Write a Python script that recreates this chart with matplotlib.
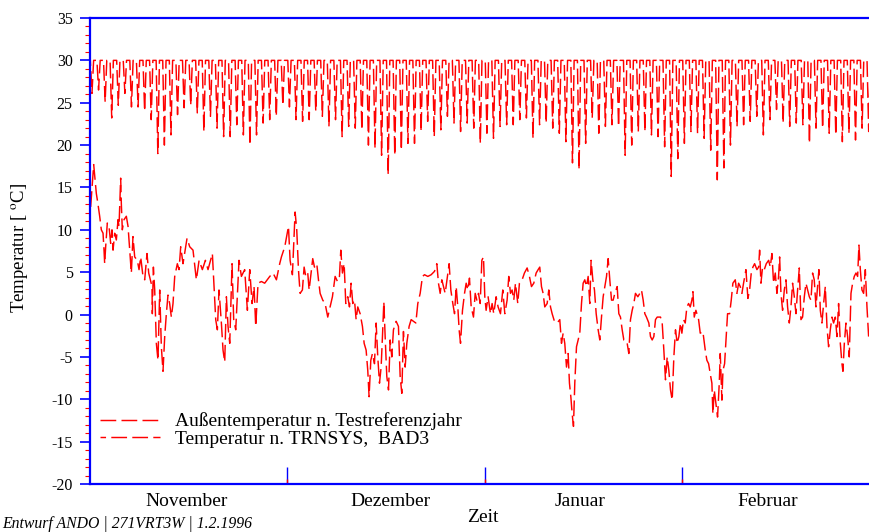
import matplotlib
matplotlib.use('Agg')
import matplotlib.pyplot as plt
from matplotlib.ticker import MultipleLocator, FixedLocator

plt.rcParams['font.family'] = ['Liberation Serif', 'DejaVu Serif']
plt.rcParams['mathtext.fontset'] = 'stix'
plt.rcParams['axes.unicode_minus'] = False

# ---------------- data ----------------
# x unit: days since 1 November; month boundaries as drawn on the chart
month_names = ['November', 'Dezember', 'Januar', 'Februar']
month_label_day = [14.7, 45.6, 74.5, 103.0]
month_boundaries = [30, 60, 90]

# Outside temperature (Testreferenzjahr): (day, degC)
outside_nov = [
    (0.1, 12.7), (0.56, 17.7), (0.96, 14.3), (1.2, 13.1), (1.47, 11.6), (1.72, 10.0),
    (1.98, 9.6), (2.13, 7.6), (2.23, 6.0), (2.38, 8.0), (2.63, 10.8), (2.89, 10.4),
    (3.14, 8.4), (3.34, 10.0), (3.5, 7.6), (3.75, 9.6), (4.0, 8.8), (4.26, 11.2),
    (4.41, 10.4), (4.66, 16.1), (4.76, 13.1), (4.91, 10.0), (5.17, 11.2), (5.52, 11.6),
    (5.78, 10.4), (6.03, 7.6), (6.28, 4.9), (6.53, 9.2), (6.79, 6.8), (7.19, 6.4),
    (7.45, 5.3), (7.7, 6.8), (8.05, 4.5), (8.31, 4.1), (8.66, 7.2), (8.92, 4.9),
    (9.17, 4.1), (9.42, 3.3), (9.47, 0.1), (9.63, 5.6), (9.83, 2.9), (10.08, -3.4),
    (10.33, -5.4), (10.59, 2.9), (10.84, -3.8), (11.09, -6.7), (11.35, -2.6), (11.6, 0.1),
    (11.85, 2.3), (12.1, 1.3), (12.36, -0.3), (12.61, 1.3), (12.87, 4.5), (13.27, 6.0),
    (13.53, 5.3), (13.78, 8.0), (14.13, 6.0), (14.74, 9.0), (15.15, 8.0), (15.65, 7.6),
    (16.16, 4.1), (16.57, 6.4), (17.07, 5.3), (17.53, 6.4), (17.93, 5.3), (18.59, 7.2),
    (18.84, 3.3), (19.1, -0.6), (19.35, -1.8), (19.6, 2.9), (19.96, -1.0), (20.21, -4.2),
    (20.47, -5.6), (20.72, 2.1), (20.97, -1.4), (21.23, -3.4), (21.58, 6.0), (21.83, -0.6),
    (22.14, -1.8), (22.64, 6.4), (23.0, 4.5), (23.5, 5.3), (23.91, 0.5), (24.27, 5.3),
    (24.62, 1.3), (24.92, 3.3), (25.18, -1.4), (25.53, 3.7), (26.04, 3.9), (26.54, 3.7),
    (27.31, 4.5), (27.81, 4.9), (28.32, 4.1), (28.82, 6.0), (29.08, 6.8), (29.59, 8.0),
]
outside_dec = [
    (30.15, 10.4), (30.4, 6.4), (30.75, 4.7), (31.16, 12.1), (31.41, 10.0), (31.67, 5.3),
    (31.92, 2.5), (32.27, 2.9), (32.53, 5.6), (32.78, 4.5), (33.08, 4.9), (33.29, 2.9),
    (33.59, 4.9), (33.84, 6.6), (34.1, 5.6), (34.45, 6.0), (34.71, 4.1), (34.96, 2.5),
    (35.36, 1.7), (35.72, 1.3), (36.12, -0.3), (36.48, 0.9), (36.83, 2.1), (37.24, 4.5),
    (37.6, 3.9), (37.9, 4.5), (38.1, 7.6), (38.35, 4.9), (38.61, 6.0), (38.86, 1.3),
    (39.16, 2.1), (39.42, 0.9), (39.67, 3.7), (39.92, 1.3), (40.18, 1.7), (40.43, -0.6),
    (40.68, 0.9), (41.04, 0.1), (41.39, -1.4), (41.65, -3.4), (41.95, -4.2), (42.2, -6.6),
    (42.4, -9.7), (42.66, -5.4), (42.91, -4.6), (43.22, -5.8), (43.47, -1.0), (43.72, -5.0),
    (43.98, -8.1), (44.23, -6.2), (44.43, -2.6), (44.64, 1.5), (44.84, -2.6), (45.09, -7.3),
    (45.35, -8.9), (45.6, -3.0), (45.85, -5.0), (46.1, -1.8), (46.51, -0.8), (46.86, -1.4),
    (47.12, -7.3), (47.37, -9.3), (47.62, -2.0), (47.88, -6.2), (48.13, -3.4), (48.48, -1.4),
    (48.79, -0.6), (49.14, -0.8), (49.5, -1.0), (49.8, 1.3), (50.16, 2.5), (50.51, 4.5),
    (50.82, 4.7), (51.32, 4.5), (51.83, 4.7), (52.34, 5.1), (52.69, 6.0), (52.94, 3.7),
    (53.2, 2.5), (53.45, 4.1), (53.7, 3.3), (53.96, 2.5), (54.31, 4.5), (54.56, 6.0),
    (54.82, 2.9), (55.12, 1.3), (55.38, 0.1), (55.63, 3.3), (55.88, 0.9), (56.08, -1.8),
    (56.29, -3.4), (56.59, 0.5), (56.9, 2.5), (57.15, 3.7), (57.4, 2.9), (57.65, 4.3),
    (57.91, 0.9), (58.26, -0.3), (58.52, 2.5), (58.77, 1.7), (59.02, 2.5), (59.28, 1.3),
    (59.53, 6.4), (59.78, 6.8),
]
outside_jan = [
    (59.98, 2.1), (60.18, 0.5), (60.48, 2.1), (60.84, 0.1), (61.09, 1.3), (61.34, 0.1),
    (61.7, 2.1), (62.0, 0.9), (62.36, 0.1), (62.71, 2.9), (63.02, 0.1), (63.37, 1.7),
    (63.62, 4.5), (63.88, 2.5), (64.13, 2.9), (64.38, 1.7), (64.64, 3.7), (64.99, 1.3),
    (65.24, 3.7), (65.65, 4.1), (66.0, 4.9), (66.41, 5.5), (66.76, 4.5), (67.07, 3.3),
    (67.42, 3.7), (67.78, 4.9), (68.08, 5.3), (68.33, 5.6), (68.59, 3.3), (68.84, 2.5),
    (69.09, 0.9), (69.45, 1.3), (69.7, 2.9), (69.96, 0.9), (70.21, 0.1), (70.56, -0.8),
    (70.97, -1.0), (71.37, -0.6), (71.63, -3.4), (71.88, -2.2), (72.13, -3.4), (72.39, -6.2),
    (72.64, -4.6), (72.84, -8.1), (73.05, -9.7), (73.25, -11.7), (73.45, -13.2), (73.65, -8.1),
    (73.91, -3.8), (74.16, -3.0), (74.41, -2.2), (74.67, 1.3), (74.92, 3.7), (75.17, 4.1),
    (75.43, 3.3), (75.68, 4.5), (75.93, 1.3), (76.13, 6.4), (76.39, 4.1), (76.64, 2.9),
    (76.9, 0.1), (77.2, -1.8), (77.45, -3.0), (77.71, -0.3), (77.96, 2.1), (78.21, 3.3),
    (78.47, 4.5), (78.72, 6.6), (78.97, 4.1), (79.23, 1.7), (79.48, 1.7), (79.73, 2.5),
    (80.09, 3.3), (80.34, 0.1), (80.59, -0.3), (80.85, -1.8), (81.1, -3.0), (81.35, -3.0),
    (81.61, -3.4), (81.86, -4.6), (82.11, -0.6), (82.37, 0.5), (82.62, 1.3), (82.87, 2.5),
    (83.23, 2.1), (83.53, 2.5), (83.78, 2.9), (84.04, 1.7), (84.29, 0.1), (84.54, -0.3),
    (84.9, -1.0), (85.15, -2.6), (85.41, -3.0), (85.66, -2.6), (85.91, -0.6), (86.17, -0.3),
    (86.67, -0.3), (86.93, -1.0), (87.18, -4.2), (87.43, -7.7), (87.69, -5.0), (87.94, -6.6),
    (88.19, -8.9), (88.45, -10.1), (88.7, -5.0), (88.95, -1.8), (89.21, -3.4), (89.46, -2.6),
    (89.71, -1.0),
]
outside_feb = [
    (89.92, -2.2), (90.17, -0.6), (90.43, -1.0), (90.68, 0.9), (90.94, 1.3), (91.19, 0.9),
    (91.44, 1.7), (91.6, 2.7), (91.8, -0.3), (92.05, 0.5), (92.46, -0.6), (92.71, -2.2),
    (93.11, -2.0), (93.47, -4.2), (93.72, -5.4), (93.98, -5.8), (94.23, -7.0), (94.48, -8.1),
    (94.63, -11.7), (94.84, -8.9), (95.09, -10.5), (95.34, -12.1), (95.6, -8.1), (95.75, -4.6),
    (96.0, -10.1), (96.16, -6.6), (96.41, -5.8), (96.66, -2.6), (96.86, 0.1), (97.17, 0.1),
    (97.42, 1.7), (97.67, 3.7), (98.03, 4.1), (98.28, 2.5), (98.54, 3.7), (98.79, 3.3),
    (99.04, 2.5), (99.29, 3.7), (99.65, 5.3), (99.95, 1.9), (100.21, 2.9), (100.46, 4.9),
    (100.71, 5.6), (100.97, 6.0), (101.32, 5.3), (101.58, 5.6), (101.73, 7.6), (101.93, 3.7),
    (102.18, 5.6), (102.44, 5.3), (102.74, 6.0), (103.1, 6.4), (103.35, 5.6), (103.6, 7.2),
    (103.85, 3.7), (104.11, 4.9), (104.36, 2.5), (104.61, 4.5), (104.77, 6.8), (104.97, 2.5),
    (105.22, 0.5), (105.48, 2.9), (105.73, 4.1), (105.98, 0.9), (106.24, -1.0), (106.49, 0.9),
    (106.74, 3.7), (107.0, 2.1), (107.25, 0.1), (107.5, 2.9), (107.76, 5.5), (108.01, -0.6),
    (108.26, -0.3), (108.52, 2.1), (108.77, 3.7), (109.02, 2.9), (109.28, 2.1), (109.53, 1.7),
    (109.78, 4.9), (110.03, 4.1), (110.29, 0.9), (110.54, 3.3), (110.74, 5.3), (110.95, 0.5),
    (111.2, -1.0), (111.45, 1.3), (111.71, 3.3), (111.96, -1.4), (112.21, -3.8), (112.47, -1.8),
    (112.72, -0.3), (112.97, -1.0), (113.23, -0.3), (113.48, -2.6), (113.73, 1.3), (113.99, -3.4),
    (114.24, -5.8), (114.39, -6.7), (114.6, -3.4), (114.85, -1.0), (115.1, -2.6), (115.35, -5.0),
    (115.61, 2.5), (115.86, 3.7), (116.11, 4.5), (116.37, 4.9), (116.62, 4.5), (116.82, 8.2),
    (117.03, 5.3), (117.28, 2.9), (117.53, 2.5), (117.79, 5.3), (118.04, 0.9), (118.29, -2.6),
]

# Room temperature (TRNSYS, BAD3): daily maximum and daily minimum per day
room_daily_max = 30.0
room_min_nov_dec = [26.1, 26.5, 25.1, 23.2, 24.7, 26.1, 24.5, 24.5, 24.0, 23.0,
                    19.0, 20.0, 21.2, 23.6, 24.4, 24.7, 23.8, 21.6, 23.4, 22.0,
                    21.0, 21.0, 22.4, 21.2, 20.0, 21.2, 22.6, 23.0, 23.4, 24.7,
                    24.5, 23.0, 22.8, 23.0, 24.0, 23.4, 22.2, 23.0, 21.0, 22.2]
room_min_dec_jan = [22.0, 21.8, 20.0, 19.6, 18.8, 16.5, 18.8, 19.4, 20.2, 20.2,
                    21.6, 22.8, 21.0, 21.8, 23.4, 22.6, 21.6, 22.6, 22.0, 20.2,
                    21.4, 20.8, 22.2, 22.4, 22.4, 23.0, 23.2, 20.8, 22.4, 22.6,
                    22.0, 21.4, 20.4, 17.9, 17.1, 20.2, 23.2, 21.4, 22.2]
room_min_jan_feb = [22.4, 22.2, 18.8, 20.0, 21.6, 21.6, 21.2, 21.0, 19.8, 16.3,
                    18.4, 20.2, 21.6, 21.4, 20.8, 19.4, 15.9, 17.3, 20.0, 22.2,
                    22.4, 22.8, 23.4, 21.2, 23.0, 24.2, 22.6, 22.2, 22.6, 22.4,
                    20.2, 22.0, 22.0, 21.4, 21.2, 20.4, 21.4, 20.6, 22.0, 21.6]

label_outside = 'Außentemperatur n. Testreferenzjahr'
label_room = 'Temperatur n. TRNSYS,  BAD3'

# ---------------- build series ----------------
outside = outside_nov + outside_dec + outside_jan + outside_feb
out_x = [p[0] for p in outside]
out_y = [p[1] for p in outside]

room_min = room_min_nov_dec + room_min_dec_jan + room_min_jan_feb
room_x, room_y = [], []
for day, m in enumerate(room_min):
    room_x += [day + 0.05, day + 0.3, day + 0.55]
    room_y += [room_daily_max, m, room_daily_max]

# ---------------- figure ----------------
W, H = 870, 532
fig = plt.figure(figsize=(W / 100, H / 100), dpi=100)
ax = fig.add_axes([90 / W, 1 - 484 / H, 780 / W, 466 / H])

red = '#ff0000'
blue = '#0000ff'
l_room, = ax.plot(room_x, room_y, color=red, lw=1.05, linestyle=(7, (10.8, 3.6)))
l_out, = ax.plot(out_x, out_y, color=red, lw=1.05, linestyle=(0, (10.8, 3.6)))

ax.set_xlim(0, 118.5)
ax.set_ylim(-20, 35)

for s in ['left', 'bottom', 'top']:
    ax.spines[s].set_color(blue)
    ax.spines[s].set_linewidth(1.6)
ax.spines['right'].set_visible(False)

ax.yaxis.set_major_locator(MultipleLocator(5))
ax.yaxis.set_minor_locator(MultipleLocator(1))
ax.tick_params(axis='y', which='major', direction='out', length=7.5, width=1.2,
               color=blue, labelsize=11.5, pad=5, right=False)
ax.tick_params(axis='y', which='minor', direction='out', length=3.6, width=0.8,
               color=red, right=False)

ax.xaxis.set_major_locator(FixedLocator(month_boundaries))
ax.xaxis.set_minor_locator(FixedLocator(month_boundaries))
ax.xaxis.remove_overlapping_locs = False
ax.tick_params(axis='x', which='major', direction='in', length=12.5, width=1.0,
               color=blue, labelbottom=False, top=False)
ax.tick_params(axis='x', which='minor', direction='in', length=3.6, width=1.0,
               color=red, top=False)

for name, d in zip(month_names, month_label_day):
    ax.text(d, -0.0386, name, transform=ax.get_xaxis_transform(),
            ha='center', va='center', fontsize=14)

fig.text(483 / W, 1 - 518 / H, 'Zeit', ha='center', va='center', fontsize=14)
fig.text(20 / W, 1 - 248 / H, r'Temperatur [ $^{\mathrm{o}}$C]', rotation=90,
         ha='center', va='center', fontsize=13.5)
fig.text(2 / W, 4.0 / H, 'Entwurf ANDO | 271VRT3W | 1.2.1996', style='italic',
         fontsize=11.3, ha='left', va='baseline')

ax.legend([l_out, l_room], [label_outside, label_room], loc='upper left',
          bbox_to_anchor=(10 / 780, (484 - 412.5) / 466), frameon=False,
          fontsize=14, handlelength=3.1, handletextpad=0.75, labelspacing=0.0,
          borderpad=0, borderaxespad=0)

fig.savefig('out.png', dpi=100)
